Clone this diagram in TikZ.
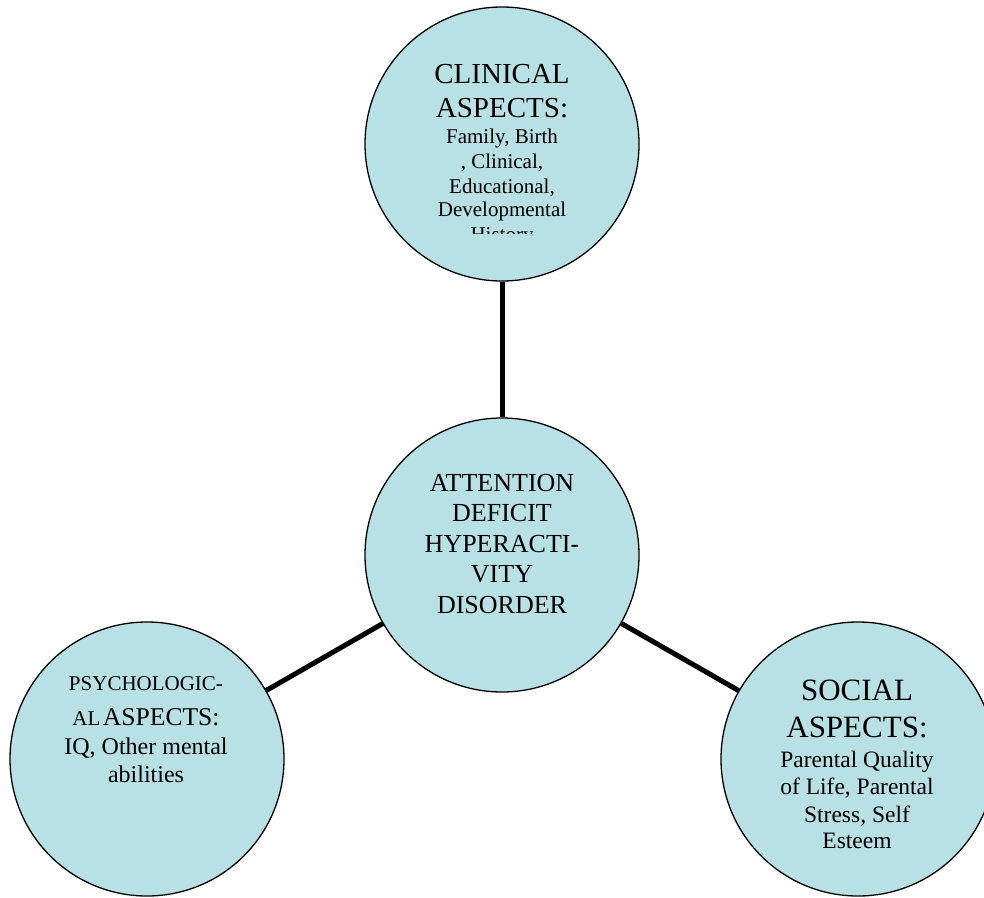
\documentclass[tikz,border=0pt]{standalone}
\usepackage{fontspec}
\setmainfont{Liberation Serif}
\definecolor{bub}{RGB}{185,224,228}
\begin{document}
\begin{tikzpicture}[x=1pt,y=-1pt,
  bubble/.style={circle,draw=black,line width=1.3pt,fill=bub,minimum size=274pt,inner sep=0pt},
  link/.style={line width=5pt},
  txt/.style={anchor=base,inner sep=0pt}]
\useasboundingbox (0,0) rectangle (984,897);
% circles
\node[bubble] (clin) at (502,144) {};
\node[bubble] (adhd) at (502,555) {};
\node[bubble] (psy) at (147,759) {};
\node[bubble] (soc) at (858,759) {};
% connectors
\draw[link] (clin) -- (adhd);
\draw[link] (adhd) -- (psy);
\draw[link] (adhd) -- (soc);
% clinical text
\node[txt,font=\fontsize{29}{33}\selectfont] (c1) at (502,83) {CLINICAL};
\node[txt,font=\fontsize{29}{33}\selectfont] (c2) at (502,117) {ASPECTS:};
\node[txt,font=\fontsize{21}{24}\selectfont] (c3) at (502,143) {Family, Birth};
\node[txt,font=\fontsize{21}{24}\selectfont] (c4) at (502,168) {, Clinical,};
\node[txt,font=\fontsize{21}{24}\selectfont] (c5) at (502,193) {Educational,};
\node[txt,font=\fontsize{21}{24}\selectfont] (c6) at (502,216) {Developmental};
\begin{scope}
\clip (380,0) rectangle (620,233);
\node[txt,font=\fontsize{21}{24}\selectfont] (c7) at (502,241) {History};
\end{scope}
% centre text
\node[txt,font=\fontsize{26}{30}\selectfont] (a1) at (502,491) {ATTENTION};
\node[txt,font=\fontsize{26}{30}\selectfont] (a2) at (502,521) {DEFICIT};
\node[txt,font=\fontsize{26}{30}\selectfont] (a3) at (502,552) {HYPERACTI-};
\node[txt,font=\fontsize{26}{30}\selectfont] (a4) at (502,582) {VITY};
\node[txt,font=\fontsize{26}{30}\selectfont] (a5) at (502,613) {DISORDER};
% psychological text
\node[txt,font=\fontsize{21}{24}\selectfont] (p1) at (146,690) {PSYCHOLOGIC-};
\node[txt] (p2) at (146,725) {{\fontsize{21}{24}\selectfont AL} {\fontsize{25.6}{28}\selectfont ASPECTS:}};
\node[txt,font=\fontsize{24}{28}\selectfont] (p3) at (146,754) {IQ, Other mental};
\node[txt,font=\fontsize{24}{28}\selectfont] (p4) at (146,782) {abilities};
% social text
\node[txt,font=\fontsize{31}{36}\selectfont] (s1) at (857,700) {SOCIAL};
\node[txt,font=\fontsize{31}{36}\selectfont] (s2) at (857,737) {ASPECTS:};
\node[txt,font=\fontsize{23.5}{27}\selectfont] (s3) at (857,767) {Parental Quality};
\node[txt,font=\fontsize{23.5}{27}\selectfont] (s4) at (857,794) {of Life, Parental};
\node[txt,font=\fontsize{23.5}{27}\selectfont] (s5) at (857,822) {Stress, Self};
\node[txt,font=\fontsize{23.5}{27}\selectfont] (s6) at (857,848) {Esteem};
\end{tikzpicture}
\end{document}
